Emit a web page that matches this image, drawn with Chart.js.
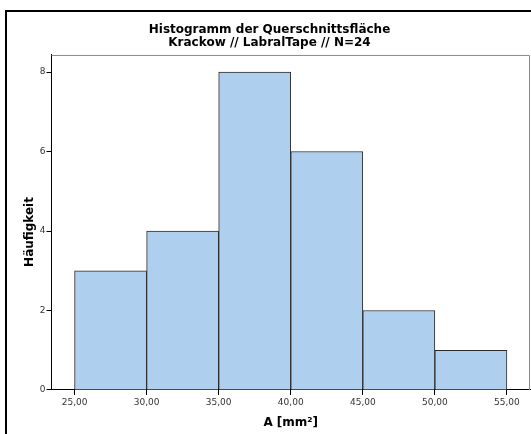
<!DOCTYPE html>
<html>
<head>
<meta charset="utf-8">
<script src="https://cdn.jsdelivr.net/npm/chart.js@4.4.0/dist/chart.umd.min.js"></script>
<style>
  html, body { margin: 0; padding: 0; background: #fff; }
  #wrap { width: 531px; height: 434px; position: relative; }
</style>
</head>
<body>
<div id="wrap"><canvas id="histChart"></canvas></div>
<script>
// Klassengrenzen und Häufigkeiten
const binEdges = [25, 30, 35, 40, 45, 50, 55];
const counts = [3, 4, 8, 6, 2, 1];
const xTicks = [25, 30, 35, 40, 45, 50, 55];
const yTicks = [0, 2, 4, 6, 8];
const yTitle = 'Häufigkeit';

const FONT = '"DejaVu Sans", Verdana, sans-serif';

// Balken in der Klassenmitte
const barData = counts.map((c, i) => ({ x: (binEdges[i] + binEdges[i + 1]) / 2, y: c }));

// Rahmen um das Diagramm, graue Kanten oben/rechts, y-Achsentitel
const framePlugin = {
    id: 'frame',
    beforeDraw(chart) {
        const ctx = chart.ctx;
        ctx.save();
        ctx.strokeStyle = '#000';
        ctx.lineWidth = 2;
        ctx.strokeRect(6, 11, 600, 500);
        ctx.restore();
    },
    afterDraw(chart) {
        const a = chart.chartArea;
        const ctx = chart.ctx;
        ctx.save();
        ctx.strokeStyle = '#8a8a8a';
        ctx.lineWidth = 1;
        ctx.beginPath();
        ctx.moveTo(a.left, a.top + 0.5);
        ctx.lineTo(a.right - 0.5, a.top + 0.5);
        ctx.lineTo(a.right - 0.5, a.bottom);
        ctx.stroke();

        // y-Titel etwas unterhalb der Mitte, wie im SPSS-Original
        ctx.translate(30, 232);
        ctx.rotate(-Math.PI / 2);
        ctx.fillStyle = '#000';
        ctx.font = 'bold 12px ' + FONT;
        ctx.textAlign = 'center';
        ctx.textBaseline = 'middle';
        ctx.fillText(yTitle, 0, 0);
        ctx.restore();
    }
};

const ctx = document.getElementById('histChart').getContext('2d');
new Chart(ctx, {
    type: 'bar',
    data: {
        datasets: [{
            data: barData,
            backgroundColor: '#aecfee',
            borderColor: '#2b2b2b',
            borderWidth: 1,
            barPercentage: 1,
            categoryPercentage: 1
        }]
    },
    options: {
        responsive: true,
        maintainAspectRatio: false,
        animation: false,
        layout: { padding: { left: 9, right: 1, top: 0, bottom: 0 } },
        plugins: {
            legend: { display: false },
            tooltip: { enabled: false },
            title: {
                display: true,
                text: ['Histogramm der Querschnittsfläche', 'Krackow // LabralTape // N=24'],
                color: '#000',
                font: { family: FONT, size: 12, weight: 'bold', lineHeight: 1.04 },
                padding: { top: 23.75, bottom: 6.25 }
            }
        },
        scales: {
            x: {
                type: 'linear',
                min: 23.4,
                max: 56.6,
                offset: false,
                afterBuildTicks: s => { s.ticks = xTicks.map(v => ({ value: v })); },
                afterFit: s => { s.height = 44; },
                ticks: {
                    color: '#333',
                    font: { family: FONT, size: 9 },
                    padding: 2,
                    maxRotation: 0,
                    callback: v => v.toFixed(2).replace('.', ',')
                },
                grid: { display: true, offset: false, drawOnChartArea: false, drawTicks: true, tickLength: 5, color: '#000' },
                border: { display: true, color: '#000', width: 1 },
                title: {
                    display: true,
                    text: 'A [mm²]',
                    color: '#000',
                    font: { family: FONT, size: 12, weight: 'bold' },
                    padding: { top: 2, bottom: 4 }
                }
            },
            y: {
                min: 0,
                max: 8.43,
                afterBuildTicks: s => { s.ticks = yTicks.map(v => ({ value: v })); },
                afterFit: s => { s.width = 42.5; },
                ticks: {
                    color: '#333',
                    font: { family: FONT, size: 9 },
                    padding: 1
                },
                grid: { display: true, offset: false, drawOnChartArea: false, drawTicks: true, tickLength: 5, color: '#000' },
                border: { display: true, color: '#000', width: 1 },
                title: { display: false }
            }
        }
    },
    plugins: [framePlugin]
});
</script>
</body>
</html>
